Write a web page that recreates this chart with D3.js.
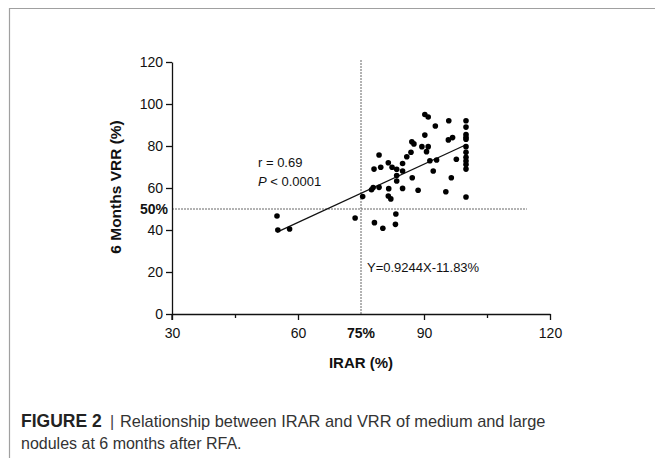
<!DOCTYPE html>
<html>
<head>
<meta charset="utf-8">
<script src="https://cdn.jsdelivr.net/npm/d3@7"></script>
<style>
html,body{margin:0;padding:0;background:#fff;}
svg{display:block;font-family:"Liberation Sans",Arial,sans-serif;}
</style>
</head>
<body>
<svg id="c" width="655" height="458"></svg>
<script>
// Data
const irar = [55,55.2,58,73.6,75.4,81.5,82.1,100,83.3,78.2,80.2,83.2,77.5,77.9,79.3,81.6,84.9,88.6,95.2,83.5,83.5,87.2,96.5,78.1,79.7,81.5,82.4,83.5,84.9,84.9,85.9,86.9,79.3,87.1,87.6,89.5,91,90.6,91.4,93,92.2,97.7,95.8,96.8,90.2,90.2,91,92.7,95.9,100,100,100,100,100,100,100,100,100,100,100];
const vrr  = [46.7,40,40.5,45.7,55.9,56.2,54.8,55.7,47.6,43.5,40.8,42.7,59.2,60.2,60.3,59.7,59.8,58.9,58.2,63.3,65.9,64.9,64.9,69,69.9,72,69.9,68.9,68.1,71.7,74.9,77,75.7,82,81,79.7,79.7,77.3,73,73.3,68.1,73.7,82.9,84,85.2,95,93.8,89.5,92,92,89,85.5,84.2,83.2,79.7,77,74.6,72.8,71.2,69];
const xTicks = [30,60,90,120];
const xMinorTicks = [45,105];
const yTicks = [0,20,40,60,80,100,120];
const slope = 0.9244, intercept = -11.83;
const fitRange = [55,100];
const xThreshold = 75, yThreshold = 50;

const svg = d3.select("#c");
// frame
svg.append("path").attr("d","M9.5,458 V8.5 H655").attr("fill","none").attr("stroke","#a0a0a0").attr("stroke-width",1.2);

const x = d3.scaleLinear().domain([30,120]).range([172,550]);
const y = d3.scaleLinear().domain([0,120]).range([314,62]);

// threshold lines
svg.append("line").attr("x1",x(xThreshold)).attr("x2",x(xThreshold)).attr("y1",y(120)-2).attr("y2",y(0))
  .attr("stroke","#666").attr("stroke-width",1).attr("stroke-dasharray","2,1");
svg.append("line").attr("x1",x(30)).attr("x2",x(114.5)).attr("y1",y(yThreshold)).attr("y2",y(yThreshold))
  .attr("stroke","#666").attr("stroke-width",1).attr("stroke-dasharray","2,1");

// axes
const gx = svg.append("g").attr("transform",`translate(0,${y(0)})`)
  .call(d3.axisBottom(x).tickValues(xTicks).tickSize(6).tickSizeOuter(0).tickPadding(3));
svg.append("g").attr("transform",`translate(0,${y(0)})`)
  .call(d3.axisBottom(x).tickValues(xMinorTicks).tickSize(4).tickFormat(""))
  .call(g=>g.select(".domain").remove())
  .call(g=>g.selectAll("line").attr("stroke","#111").attr("stroke-width",1.3));
const gy = svg.append("g").attr("transform",`translate(${x(30)},0)`)
  .call(d3.axisLeft(y).tickValues(yTicks).tickSize(6).tickSizeOuter(0).tickPadding(3));
[gx,gy].forEach(g=>{
  g.selectAll("text").attr("font-size",14).attr("fill","#111").attr("font-family","Liberation Sans, Arial, sans-serif");
  g.selectAll("line,path").attr("stroke","#111").attr("stroke-width",1.3);
});
gx.selectAll("text").attr("y",24).attr("dy",0);
// y axis extends a bit below x axis
svg.append("line").attr("x1",x(30)).attr("x2",x(30)).attr("y1",y(0)).attr("y2",y(0)+6).attr("stroke","#111").attr("stroke-width",1.3);

// threshold labels
svg.append("text").attr("x",x(30)-4).attr("y",y(yThreshold)+5).attr("text-anchor","end")
  .attr("font-size",14).attr("font-weight","bold").attr("fill","#111").text("50%");
svg.append("text").attr("x",x(xThreshold)).attr("y",y(0)+24).attr("text-anchor","middle")
  .attr("font-size",14).attr("font-weight","bold").attr("fill","#111").text("75%");

// fit line
svg.append("line").attr("x1",x(fitRange[0])).attr("y1",y(slope*fitRange[0]+intercept))
  .attr("x2",x(fitRange[1])).attr("y2",y(slope*fitRange[1]+intercept))
  .attr("stroke","#111").attr("stroke-width",1.3);

// points
svg.append("g").selectAll("circle").data(irar.map((d,i)=>[d,vrr[i]])).join("circle")
  .attr("cx",d=>x(d[0])).attr("cy",d=>y(d[1])).attr("r",2.8).attr("fill","#000");

// annotations
svg.append("text").attr("x",258).attr("y",167).attr("font-size",13).attr("fill","#111").text("r = 0.69");
const pt = svg.append("text").attr("x",258).attr("y",186).attr("font-size",13).attr("fill","#111");
pt.append("tspan").attr("font-style","italic").text("P");
pt.append("tspan").text(" < 0.0001");
svg.append("text").attr("x",367).attr("y",272).attr("font-size",13).attr("fill","#111").text("Y=0.9244X-11.83%");

// axis titles
svg.append("text").attr("x",x(75)).attr("y",368).attr("text-anchor","middle")
  .attr("font-size",15).attr("font-weight","bold").attr("fill","#111").text("IRAR (%)");
svg.append("text").attr("transform",`translate(121,${y(60.5)}) rotate(-90)`).attr("text-anchor","middle")
  .attr("font-size",15.5).attr("font-weight","bold").attr("fill","#111").text("6 Months VRR (%)");

// caption
svg.append("text").attr("x",21).attr("y",427).attr("font-size",17.5).attr("font-weight","bold").attr("fill","#222")
  .text("FIGURE 2");
svg.append("text").attr("x",110).attr("y",427).attr("font-size",16).attr("fill","#444").text("|");
svg.append("text").attr("x",120).attr("y",427).attr("font-size",16.4).attr("fill","#333").text("Relationship between IRAR and VRR of medium and large");
svg.append("text").attr("x",21).attr("y",449).attr("font-size",16).attr("fill","#333").text("nodules at 6 months after RFA.");
</script>
</body>
</html>
